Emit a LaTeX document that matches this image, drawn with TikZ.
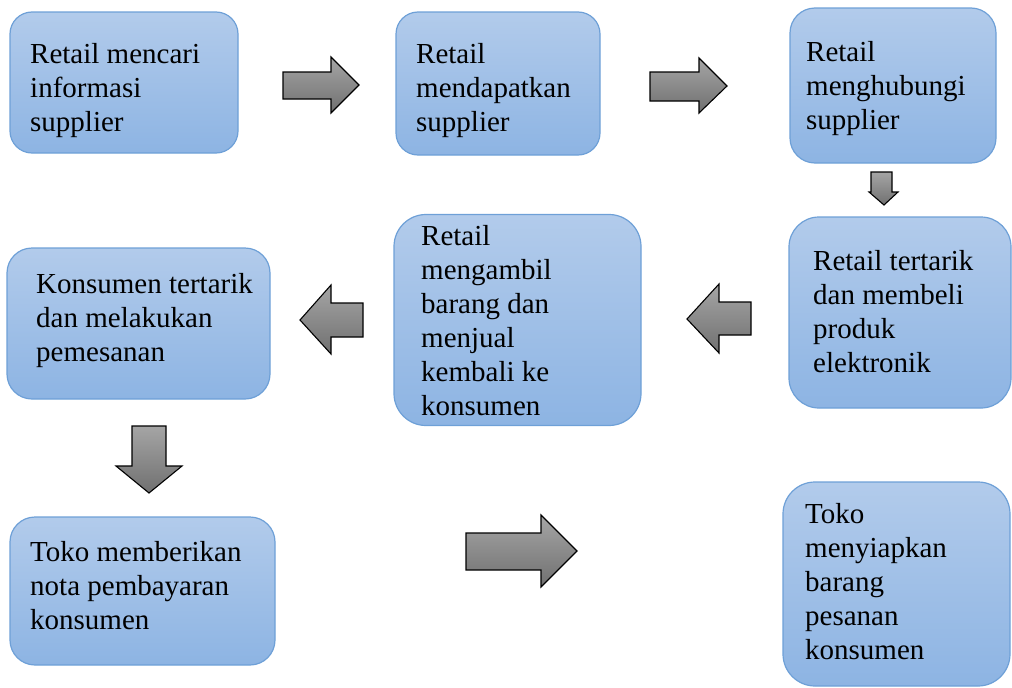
\documentclass[tikz,border=0pt]{standalone}
\usepackage{fontspec}
\setmainfont{Liberation Serif}
\definecolor{boxtop}{RGB}{178,203,235}
\definecolor{boxbot}{RGB}{141,180,227}
\definecolor{boxline}{RGB}{110,160,215}
\definecolor{arrtop}{RGB}{165,165,165}
\definecolor{arrbot}{RGB}{112,112,112}
\tikzset{
  flowbox/.style={draw=boxline, line width=1.2pt, top color=boxtop, bottom color=boxbot, inner sep=0pt},
  flowtext/.style={anchor=base west, align=left, inner sep=0pt, font=\fontsize{29}{34}\selectfont},
  blockarrow/.style={draw=black, line width=1.1pt, line join=miter, top color=arrtop, bottom color=arrbot}
}
\begin{document}
\begin{tikzpicture}[x=1pt,y=-1pt]
\useasboundingbox (0,0) rectangle (1012,688);
% boxes
\node[flowbox, minimum width=228pt, minimum height=141pt, rounded corners=22pt] (b1) at (124,82.5) {};
\node[flowbox, minimum width=204pt, minimum height=143pt, rounded corners=22pt] (b2) at (498,83.5) {};
\node[flowbox, minimum width=206pt, minimum height=155pt, rounded corners=25pt] (b3) at (893,85.5) {};
\node[flowbox, minimum width=222pt, minimum height=191pt, rounded corners=30pt] (b4) at (900,312.5) {};
\node[flowbox, minimum width=247pt, minimum height=211pt, rounded corners=32pt] (b5) at (517.5,320) {};
\node[flowbox, minimum width=263pt, minimum height=151pt, rounded corners=25pt] (b6) at (138.5,323.5) {};
\node[flowbox, minimum width=265pt, minimum height=148pt, rounded corners=25pt] (b7) at (142.5,591) {};
\node[flowbox, minimum width=227pt, minimum height=204pt, rounded corners=32pt] (b8) at (896.5,584) {};
% texts (anchored at the baseline of the last line)
\node[flowtext] (t1) at (30,131) {Retail mencari\\informasi\\supplier};
\node[flowtext] (t2) at (416,131) {Retail\\mendapatkan\\supplier};
\node[flowtext] (t3) at (806,129) {Retail\\menghubungi\\supplier};
\node[flowtext] (t4) at (813,372) {Retail tertarik\\dan membeli\\produk\\elektronik};
\node[flowtext] (t5) at (421,415) {Retail\\mengambil\\barang dan\\menjual\\kembali ke\\konsumen};
\node[flowtext] (t6) at (36,361) {Konsumen tertarik\\dan melakukan\\pemesanan};
\node[flowtext] (t7) at (30,629) {Toko memberikan\\nota pembayaran\\konsumen};
\node[flowtext] (t8) at (805,659) {Toko\\menyiapkan\\barang\\pesanan\\konsumen};
% block arrows
\path[blockarrow] (283,72) -- (331,72) -- (331,57) -- (359,85) -- (331,113) -- (331,99) -- (283,99) -- cycle;
\path[blockarrow] (650,72) -- (699,72) -- (699,58) -- (727,86) -- (699,113) -- (699,101) -- (650,101) -- cycle;
\path[blockarrow] (871,172) -- (892,172) -- (892,192) -- (898,192) -- (884,205) -- (869,192) -- (871,192) -- cycle;
\path[blockarrow] (751,302) -- (719,302) -- (719,284) -- (687,319) -- (719,353) -- (719,335) -- (751,335) -- cycle;
\path[blockarrow] (363,303) -- (331,303) -- (331,285) -- (300,320) -- (331,354) -- (331,337) -- (363,337) -- cycle;
\path[blockarrow] (132,426) -- (166,426) -- (166,466) -- (182,466) -- (149,493) -- (116,466) -- (132,466) -- cycle;
\path[blockarrow] (466,533) -- (541,533) -- (541,515) -- (577,551) -- (541,587) -- (541,570) -- (466,570) -- cycle;
\end{tikzpicture}
\end{document}
